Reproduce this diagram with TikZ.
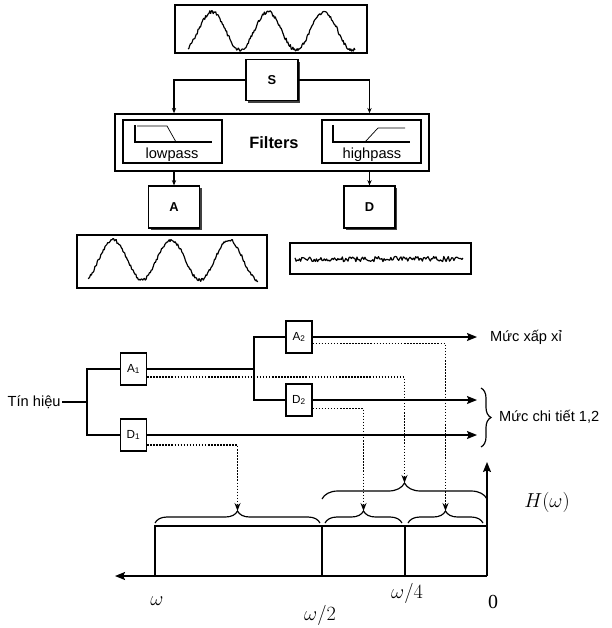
\documentclass[tikz,border=0pt]{standalone}
\usepackage{fontspec}
\setmainfont{Liberation Serif}
\setsansfont{Liberation Sans}
\usetikzlibrary{arrows.meta,positioning,shadows,calc,decorations.pathreplacing}
\tikzset{
  >={Stealth[length=3mm,width=2.4mm,inset=0.5mm]},
  frame/.style={draw,line width=1.3pt,inner sep=0pt},
  block/.style={draw,line width=1pt,fill=white,minimum width=1.53cm,minimum height=1.26cm,
    font=\sffamily\bfseries\fontsize{11}{12}\selectfont,
    drop shadow={shadow xshift=0.7mm,shadow yshift=-0.7mm,fill=black!75,opacity=1}},
  cell/.style={draw,line width=1pt,fill=white,minimum width=0.78cm,minimum height=0.96cm,
    inner sep=1pt,font=\sffamily\fontsize{10}{11}\selectfont},
  wire/.style={line width=1.1pt},
  flow/.style={wire,->},
  tick/.style={wire,-{Stealth[length=1.6mm,width=1.3mm]}},
  dots/.style={line width=1.3pt,dash pattern=on 1.3pt off 1.3pt,-{Stealth[length=2.4mm,width=1.8mm]}},
  brc/.style={line width=1pt,decorate,decoration={brace,amplitude=#1}},
  brc/.default=0.36cm,
  txt/.style={font=\sffamily\fontsize{12.5}{14}\selectfont},
  lbl/.style={font=\fontsize{17}{19}\selectfont},
  wave/.style={line width=1pt,line join=round},
}

\begin{document}
\begin{tikzpicture}[x=0.03cm,y=-0.03cm]
  \useasboundingbox (0,0) rectangle (611,628);
  % decomposition of the signal
  \node[frame,minimum width=5.76cm,minimum height=1.44cm] (sig) at (271,29) {};
  \pgfmathsetseed{3}
  \draw[wave] plot[domain=188:355,samples=200] (\x,{31-19*cos((\x-212)/56*360)+1.8*rand});
  \node[block,minimum width=1.56cm,minimum height=1.23cm] (S) at (272,80) {S};
  \node[frame,minimum width=9.42cm,minimum height=1.71cm] (filt) at (272,142.5) {};
  \node[font=\sffamily\bfseries\fontsize{14}{16}\selectfont] (ftxt) at (274,143) {Filters};
  \node[frame,line width=1pt,minimum width=2.97cm,minimum height=1.29cm] (lp) at (172.5,141.5) {};
  \node[frame,line width=1pt,minimum width=2.97cm,minimum height=1.29cm] (hp) at (371.5,141.5) {};
  \node[txt] (lptxt) at (172,155) {lowpass};
  \node[txt] (hptxt) at (372,155) {highpass};
  \draw[line width=1pt] (135,125) |- (212,142);
  \draw[line width=0.6pt] (137,126) -- (167,126) -- (176,142);
  \draw[line width=1pt] (333,125) |- (410,142);
  \draw[line width=0.6pt] (365,142) -- (378,128) -- (405,128);
  \node[block] (A) at (174,207) {A};
  \node[block] (D) at (369.5,207) {D};
  \draw[tick] (S.west) -| (A |- filt.north);
  \draw[tick] (S.east) -| (D |- filt.north);
  \draw[tick] (filt.south -| A) -- (A.north);
  \draw[tick] (filt.south -| D) -- (D.north);
  \node[frame,minimum width=5.7cm,minimum height=1.59cm] (asig) at (172,261.5) {};
  \draw[wave] plot[domain=88:258,samples=200] (\x,{260-20*cos((\x-113)/58*360)+1.6*rand});
  \node[frame,minimum width=5.43cm,minimum height=0.93cm] (dsig) at (380.5,258.5) {};
  \draw[wave] plot[domain=295:463,samples=150] (\x,{259+2.6*rand});

  % two level tree
  \node[txt,anchor=east,inner sep=1pt] (tin) at (62,402) {Tín hiệu};
  \coordinate (j1) at (87,402);
  \coordinate (j2) at (254,369);
  \node[cell] (A1) at (133.5,369) {A\textsubscript{1}};
  \node[cell] (D1) at (133.5,435) {D\textsubscript{1}};
  \node[cell] (A2) at (299,337) {A\textsubscript{2}};
  \node[cell] (D2) at (299,400) {D\textsubscript{2}};
  \draw[wire] (tin) -- (j1);
  \draw[wire] (A1.west) -| (j1) |- (D1.west);
  \draw[wire] (A1) -- (j2);
  \draw[wire] (A2.west) -| (j2) |- (D2.west);
  \coordinate (eA2) at (477,337);
  \coordinate (eD2) at (477,400);
  \coordinate (eD1) at (477,435);
  \draw[flow] (A2) -- (eA2);
  \draw[flow] (D2) -- (eD2);
  \draw[flow] (D1) -- (eD1);
  \node[txt,anchor=west] (mxx) at (486,337) {Mức xấp xỉ};
  \draw[brc=0.3cm] (481,388) -- (481,447);
  \node[txt,anchor=west] (mct) at (495,417) {Mức chi tiết 1,2};

  % frequency bands
  \coordinate (tBig) at (404.5,483);
  \coordinate (tD1) at (237.5,511);
  \coordinate (tD2) at (363.5,511);
  \coordinate (tA2) at (445.5,511);
  \draw[dots] ([yshift=-0.24cm]A1.east) -| (tBig);
  \draw[dots] ([yshift=-0.3cm]D1.east) -| (tD1);
  \draw[dots] ([yshift=-0.2cm]A2.east) -| (tA2);
  \draw[dots] ([yshift=-0.26cm]D2.east) -| (tD2);
  \draw[brc] (155,523) -- (320,523);
  \draw[brc] (325,523) -- (402,523);
  \draw[brc] (408,523) -- (483,523);
  \draw[brc=0.48cm] (322,499) -- (487,499);
  \draw[wire] (155,576) |- (487,526);
  \draw[wire] (322,526) -- (322,576);
  \draw[wire] (405,526) -- (405,576);
  \draw[flow] (487,576) -- (115,576);
  \draw[flow] (487,576) -- (487,462);
  \node[lbl] (lw) at (157,601) {$\omega$};
  \node[lbl] (lw2) at (320,615) {$\omega/2$};
  \node[lbl] (lw4) at (407,593) {$\omega/4$};
  \node[lbl] (l0) at (493,602) {0};
  \node[lbl] (lH) at (547,502) {$H(\omega)$};
\end{tikzpicture}
\end{document}
